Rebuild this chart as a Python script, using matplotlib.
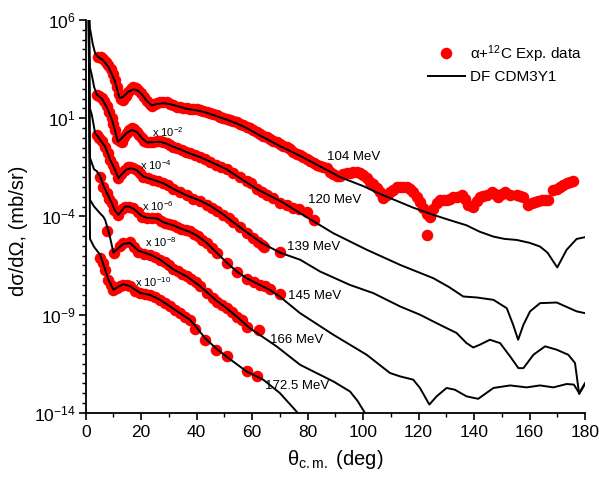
import numpy as np
import matplotlib
matplotlib.use('Agg')
import matplotlib.pyplot as plt
from matplotlib.ticker import FixedLocator, MultipleLocator, NullFormatter, FuncFormatter
from matplotlib.lines import Line2D

plt.rcParams['font.family'] = ['Liberation Sans', 'DejaVu Sans']
plt.rcParams['mathtext.fontset'] = 'custom'
plt.rcParams['mathtext.rm'] = 'Liberation Sans'
plt.rcParams['mathtext.it'] = 'Liberation Sans:italic'
plt.rcParams['mathtext.bf'] = 'Liberation Sans:bold'

energies = ['104 MeV', '120 MeV', '139 MeV', '145 MeV', '166 MeV', '172.5 MeV']
factors = [1.0, 1e-2, 1e-4, 1e-6, 1e-8, 1e-10]
factor_labels = ['', 'x 10$^{-2}$', 'x 10$^{-4}$', 'x 10$^{-6}$', 'x 10$^{-8}$', 'x 10$^{-10}$']

# ---- experimental data (mb/sr, unscaled) ----
th_104 = [4.5, 5.5, 6.4, 7.3, 8.2, 9.0, 9.8, 10.6, 11.3, 12.0, 12.8, 13.6, 14.5, 15.4, 16.3, 17.2,
          18.1, 19.0, 20.0, 21.0, 22.0, 23.0, 23.8, 24.8, 25.8, 26.8, 28.0, 29.2, 30.4, 31.6, 32.8,
          34.0, 35.2, 36.4, 37.6, 38.8, 40.0, 41.2, 42.4, 43.6, 44.8, 46.0, 47.2, 48.4, 49.6, 50.8,
          52.0, 53.2, 54.4, 55.6, 56.8, 58.0, 59.2, 60.4, 61.6, 62.9, 64.0, 65.2, 66.4, 67.7, 68.9,
          70.1, 71.3, 72.5, 73.7, 74.9, 76.1, 77.3, 78.5, 79.7, 81.0, 82.2, 83.4, 84.5, 85.7, 86.9,
          88.1, 89.3, 90.5, 91.7, 92.9, 94.1, 95.3, 96.5, 97.7, 98.9, 100.1, 101.3, 102.5, 103.7,
          104.9, 106.1, 107.3, 108.5, 109.7, 110.9, 112.1, 113.3, 114.5, 115.7, 116.9, 118.1, 119.3,
          120.5, 121.7, 122.9, 123.0, 124.1, 125.3, 126.5, 127.7, 129.0, 130.1, 131.3, 132.5, 133.7,
          135.5, 136.7, 137.9, 139.7, 141.0, 142.1, 143.4, 144.6, 146.4, 147.6, 148.7, 150.0, 151.2,
          153.0, 155.4, 156.6, 157.7, 159.6, 160.8, 162.0, 163.2, 164.4, 165.6, 166.8, 168.6, 169.8,
          171.0, 172.2, 173.4, 174.6, 175.8]
xs_104 = [1.35e4, 1.26e4, 1.07e4, 7.6e3, 5.0e3, 3.16e3, 1.78e3, 8.9e2, 4.0e2, 1.78e2, 1.0e2, 85,
          1.41e2, 2.24e2, 3.16e2, 3.72e2, 3.55e2, 2.82e2, 2.0e2, 1.26e2, 79, 50, 42, 50, 59, 66, 69,
          63, 56, 47, 39, 35.5, 33.9, 32.4, 30.9, 30.2, 28.2, 25.1, 22.9, 20.4, 17.8, 15.8, 14.1,
          12.0, 10.7, 9.55, 8.32, 7.24, 6.31, 5.25, 4.47, 3.72, 3.02, 2.51, 2.09, 1.51, 1.26, 1.10,
          0.891, 0.724, 0.631, 0.479, 0.398, 0.331, 0.263, 0.200, 0.151, 0.126, 0.100, 0.0794,
          0.0631, 0.0501, 0.0417, 0.0380, 0.0316, 0.0282, 0.0178, 0.0141, 0.0112, 0.0112, 0.0141,
          0.0158, 0.0158, 0.0178, 0.0178, 0.0158, 0.0126, 8.9e-3, 5.9e-3, 4.5e-3, 2.8e-3, 1.78e-3,
          8.5e-4, 1.26e-3, 1.78e-3, 2.24e-3, 3.0e-3, 3.3e-3, 3.3e-3, 3.0e-3, 2.4e-3, 1.66e-3, 1.0e-3,
          5.6e-4, 2.8e-4, 1.35e-4, 1.15e-5, 8.9e-5, 2.5e-4, 4.7e-4, 6.9e-4, 7.1e-4, 6.9e-4, 7.9e-4,
          1.0e-3, 1.02e-3, 1.23e-3, 7.9e-4, 3.9e-4, 3.16e-4, 6.3e-4, 1.02e-3, 1.12e-3, 1.23e-3,
          1.82e-3, 1.41e-3, 1.02e-3, 1.41e-3, 1.82e-3, 1.23e-3, 1.23e-3, 1.12e-3, 1.02e-3, 3.9e-4,
          5.0e-4, 5.6e-4, 6.3e-4, 6.9e-4, 6.9e-4, 6.9e-4, 2.24e-3, 2.5e-3, 3.3e-3, 4.0e-3, 4.9e-3,
          5.6e-3, 6.3e-3]

th_120 = [3.96, 4.9, 5.8, 6.7, 7.6, 8.5, 9.4, 10.0, 10.6, 11.4, 12.2, 13.0, 13.9, 14.8, 15.7, 16.6,
          17.5, 18.4, 19.3, 20.2, 21.1, 22.0, 23.2, 24.4, 25.6, 26.8, 28.0, 29.2, 30.4, 31.6, 33.0,
          34.6, 36.0, 37.6, 39.4, 41.2, 43.0, 44.8, 47.0, 48.8, 50.8, 53.2, 55.6, 58.0, 59.5, 61.6,
          63.4, 65.2, 67.6, 70.1, 72.5, 74.8, 77.0, 79.7, 82.4]
xs_120 = [1.51e4, 1.32e4, 1.02e4, 7.1e3, 4.0e3, 2.0e3, 1.0e3, 5.0e2, 2.5e2, 89, 71, 65, 112, 170,
          251, 309, 282, 209, 141, 95, 71, 58, 60, 65, 69, 72, 63, 54, 44, 35, 30, 24, 20, 16.6,
          13.5, 11.0, 8.3, 6.2, 4.2, 3.16, 2.63, 1.58, 1.07, 0.63, 0.50, 0.25, 0.178, 0.117, 0.089,
          0.050, 0.038, 0.028, 0.024, 0.0158, 6.6e-3]

th_139 = [4.0, 4.9, 5.8, 7.0, 7.9, 8.8, 9.7, 10.6, 11.8, 12.8, 14.2, 15.1, 16.0, 17.2, 18.4, 19.6,
          20.8, 22.6, 24.4, 26.2, 28.0, 29.8, 31.6, 34.0, 36.4, 38.8, 41.2, 43.6, 45.5, 47.5, 49.6,
          51.5, 53.2, 55.6, 58.0, 60.4, 62.0, 63.4, 64.2, 70.1]
xs_139 = [1.41e4, 1.0e4, 7.1e3, 3.55e3, 1.78e3, 7.6e2, 4.0e2, 2.34e2, 87, 141, 234, 316, 339, 302,
          234, 158, 107, 85, 72, 60, 49, 38, 25, 17.8, 11.7, 7.9, 6.3, 4.0, 2.8, 1.78, 1.2, 0.79,
          0.50, 0.28, 0.138, 0.079, 0.050, 0.035, 0.029, 0.0162]

th_145 = [5.2, 6.3, 7.6, 8.5, 9.4, 10.2, 11.8, 13.0, 14.2, 15.6, 17.2, 18.7, 20.2, 22.0, 23.8, 25.6,
          27.0, 28.5, 30.0, 31.6, 33.0, 34.5, 36.0, 37.6, 39.0, 40.5, 41.8, 43.6, 45.4, 47.2, 50.8,
          54.4, 58.0, 60.5, 62.8, 64.5, 66.4, 70.1]
xs_145 = [1.07e4, 3.3e3, 1.51e3, 7.9e2, 4.7e2, 2.14e2, 1.2e2, 2.24e2, 3.16e2, 3.16e2, 2.63e2,
          1.58e2, 98, 81, 81, 79, 56, 45, 40, 37, 28, 24, 20, 17, 13.2, 10, 6.3, 4.4, 2.5, 1.35,
          0.42, 0.141, 0.063, 0.045, 0.032, 0.027, 0.020, 0.0107]

th_166 = [7.8, 10.2, 12.3, 13.6, 16.0, 17.5, 19.0, 21.0, 23.2, 25.0, 26.8, 28.5, 30.0, 31.6, 33.2,
          34.8, 36.4, 38.0, 39.6, 41.2, 43.6, 46.0, 47.2, 49.0, 50.8, 52.6, 54.4, 56.2, 58.0, 62.5]
xs_166 = [1.9e3, 1.35e2, 3.16e2, 4.4e2, 4.8e2, 2.8e2, 1.62e2, 1.26e2, 1.1e2, 89, 62, 45, 32, 22,
          15.8, 12, 8.7, 6.3, 4.5, 2.8, 1.23, 0.71, 0.46, 0.32, 0.21, 0.141, 0.079, 0.050, 0.0245,
          0.0166]

th_172 = [5.2, 6.1, 7.0, 8.1, 9.0, 10.0, 11.2, 12.5, 13.6, 14.8, 16.0, 17.8, 19.6, 21.4, 23.2,
          25.0, 26.8, 28.6, 30.4, 32.2, 34.0, 35.8, 37.6, 39.4, 43.0, 46.8, 50.8, 58.0, 61.8]
xs_172 = [7.4e3, 4.0e3, 1.9e3, 5.9e2, 3.16e2, 1.82e2, 2.24e2, 3.0e2, 3.2e2, 3.16e2, 2.7e2, 1.66e2,
          1.23e2, 1.07e2, 1.02e2, 79, 56, 40, 26, 17.8, 11.7, 7.9, 5.4, 1.78, 0.52, 0.162, 0.074,
          0.0141, 7.6e-3]

# ---- DF CDM3Y1 folding model curves (mb/sr, unscaled) ----
thd_104 = [1.0, 1.5, 2.5, 3.4, 4.5, 6.3, 8.2, 9.4, 10.6, 11.4, 12.1, 13.0, 14.3, 15.4, 17.2, 18.6,
           20.2, 22.0, 23.8, 25.6, 28.0, 30.4, 32.8, 36.4, 40.0, 43.6, 47.2, 50.8, 54.4, 58.0, 62.0,
           66.0, 70.0, 77.3, 84.5, 91.7, 100.0, 106.0, 112.0, 118.0, 125.3, 131.0, 137.3, 142.0,
           147.0, 151.0, 155.4, 160.0, 163.8, 166.5, 170.0, 173.4, 177.0, 180.0]
df_104 = [3e7, 4.0e5, 6.3e4, 2.0e4, 1.32e4, 8.9e3, 4.0e3, 1.78e3, 7.1e2, 2.8e2, 1.12e2, 1.12e2,
          1.58e2, 2.24e2, 2.95e2, 2.63e2, 1.66e2, 76, 45, 52, 58, 52, 42, 30, 25, 19, 12.6, 8.5, 5.4,
          3.16, 1.51, 0.76, 0.38, 0.12, 0.035, 0.01, 3.5e-3, 1.41e-3, 6.3e-4, 2.8e-4, 1.2e-4, 6.6e-5,
          3.5e-5, 1.66e-5, 9.3e-6, 7.1e-6, 6.3e-6, 4.5e-6, 2.9e-6, 1.41e-6, 2.5e-7, 2.0e-6, 7.1e-6,
          8.7e-6]

thd_120 = [1.0, 1.5, 2.2, 3.0, 4.0, 5.8, 7.6, 9.4, 10.6, 11.6, 12.4, 14.8, 16.6, 18.4, 20.2, 22.0,
           24.4, 26.8, 29.2, 31.6, 34.6, 37.6, 41.2, 44.8, 50.8, 55.7, 61.6, 66.4, 71.2, 77.3, 89.3,
           101.3, 113.3, 125.3, 131.0, 136.1, 141.0, 147.0, 151.8, 154.1, 155.9, 157.8, 160.2,
           163.8, 169.8, 177.0, 180.0]
df_120 = [3e9, 4.0e5, 1.58e5, 4.0e4, 1.58e4, 1.0e4, 3.55e3, 8.9e2, 2.24e2, 63, 79, 178, 251, 200,
          100, 58, 60, 63, 50, 35, 24, 15.8, 10.5, 6.2, 2.5, 0.87, 0.25, 0.112, 0.050, 0.0145,
          1.38e-3, 2.0e-4, 3.4e-5, 7.1e-6, 2.5e-6, 8.3e-7, 7.4e-7, 5.6e-7, 2.1e-7, 3.0e-8, 5.2e-9,
          3.0e-8, 1.45e-7, 3.8e-7, 4.1e-7, 1.45e-7, 1.17e-7]

thd_139 = [1.0, 1.5, 2.2, 3.4, 4.5, 5.2, 7.0, 8.8, 10.6, 11.8, 13.0, 14.8, 16.5, 18.4, 20.8, 24.4,
           28.0, 31.6, 36.4, 41.2, 44.8, 49.6, 53.2, 58.0, 63.4, 70.1, 77.3, 84.5, 95.3, 103.7,
           113.3, 120.5, 127.7, 133.7, 137.3, 139.7, 142.1, 145.7, 149.4, 153.0, 156.0, 157.8,
           161.4, 165.6, 169.8, 174.0, 176.4, 177.9, 180.0]
df_139 = [3e11, 3.2e5, 1.48e5, 1.7e4, 1.12e4, 7.8e3, 3.55e3, 7.6e2, 2.34e2, 87, 141, 251, 282, 224,
          107, 72, 49, 25, 11.7, 6.3, 3.55, 1.26, 0.50, 0.158, 0.045, 0.0141, 6.2e-3, 1.55e-3,
          3.2e-4, 1.23e-4, 2.6e-5, 9.8e-6, 3.0e-6, 1.15e-6, 3.5e-7, 2.1e-7, 2.9e-7, 5.2e-7, 3.5e-7,
          7.4e-8, 1.86e-8, 1.86e-8, 8.9e-8, 2.4e-7, 1.62e-7, 8.9e-8, 3.4e-8, 8.9e-10, 2.9e-9]

thd_145 = [1.0, 1.5, 3.0, 4.0, 5.2, 6.3, 7.6, 9.4, 10.5, 11.8, 13.0, 14.2, 15.5, 17.2, 20.2, 22.0,
           25.6, 28.0, 31.6, 34.0, 37.6, 40.0, 43.6, 47.2, 50.8, 54.4, 58.0, 62.8, 66.4, 70.1, 77.3,
           89.3, 101.3, 109.7, 113.3, 118.1, 120.5, 123.9, 126.5, 130.1, 133.1, 137.3, 141.5, 147.0,
           153.0, 159.0, 163.8, 168.6, 173.4, 176.0, 177.9, 180.0]
df_145 = [3e13, 1.0e5, 2.5e4, 2.0e4, 1.07e4, 4.0e3, 1.58e3, 4.7e2, 2.0e2, 1.2e2, 2.0e2, 3.16e2,
          3.16e2, 2.5e2, 105, 85, 79, 50, 35, 25, 15.8, 10.7, 4.5, 1.41, 0.45, 0.158, 0.071, 0.032,
          0.0178, 7.9e-3, 1.17e-3, 9.3e-5, 8.9e-6, 1.05e-6, 7.1e-7, 4.8e-7, 1.82e-7, 2.6e-8, 6.8e-8,
          1.82e-7, 1.48e-7, 6.8e-8, 5.1e-8, 1.82e-7, 2.45e-7, 1.95e-7, 2.45e-7, 1.95e-7, 2.9e-7,
          2.7e-7, 1.0e-7, 3.2e-7]

thd_166 = [1.0, 1.55, 3.0, 5.2, 6.3, 7.0, 8.5, 10.0, 11.5, 13.6, 16.0, 19.0, 23.2, 26.8, 31.6, 36.4,
           41.2, 43.6, 47.2, 50.8, 54.4, 59.2, 68.8, 77.3, 84.5, 89.3, 95.3, 98.0, 101.5]
df_166 = [3e15, 6.9e4, 3.2e4, 1.41e4, 9.8e3, 6.6e3, 1.26e3, 1.41e2, 2.24e2, 4.0e2, 4.4e2, 1.78e2,
          1.12e2, 63, 20, 8.7, 2.8, 1.41, 0.50, 0.21, 0.079, 0.020, 2.4e-3, 2.75e-4, 8.5e-5, 3.9e-5,
          1.2e-5, 4.0e-6, 6.3e-7]

thd_172 = [1.0, 1.55, 3.0, 5.2, 7.0, 8.1, 10.0, 11.5, 13.6, 16.0, 19.6, 23.2, 26.8, 30.4, 34.0,
           37.6, 39.4, 43.0, 47.2, 50.8, 58.0, 64.0, 70.0, 74.8, 77.0]
df_172 = [3e17, 7.1e4, 2.8e4, 1.1e4, 2.0e3, 6.3e2, 1.82e2, 2.5e2, 3.55e2, 2.8e2, 1.26e2, 100, 56,
          26, 11.7, 5.4, 2.8, 0.63, 0.178, 0.071, 0.0126, 4.8e-3, 1.0e-3, 1.78e-4, 7.9e-5]

exp_sets = [(th_104, xs_104), (th_120, xs_120), (th_139, xs_139),
            (th_145, xs_145), (th_166, xs_166), (th_172, xs_172)]
df_sets = [(thd_104, df_104), (thd_120, df_120), (thd_139, df_139),
           (thd_145, df_145), (thd_166, df_166), (thd_172, df_172)]

# label anchors (deg, plotted value)
energy_pos = [(87.0, 0.107), (80.1, 6.9e-4), (72.6, 2.8e-6), (72.9, 8.9e-9), (66.4, 5.2e-11), (64.6, 2.3e-13)]
factor_pos = [None, (23.9, 2.0), (19.6, 0.042), (20.3, 3.4e-4), (21.4, 5.0e-6), (17.8, 4.7e-8)]

fig = plt.figure(figsize=(5.99, 4.79), dpi=100)
ax = fig.add_axes([0.1431, 0.1384, 0.8335, 0.8198])

for (th, xs), f in zip(exp_sets, factors):
    ax.plot(th, np.array(xs) * f, 'o', color='#ff0000', ms=8.3, mec='none', zorder=2)
for (th, xs), f in zip(df_sets, factors):
    ax.plot(th, np.array(xs) * f, '-', color='black', lw=1.4, zorder=3)

for lab, (x, y) in zip(energies, energy_pos):
    ax.text(x, y, lab, fontsize=9.5, ha='left', va='center', zorder=4)
for lab, pos in zip(factor_labels, factor_pos):
    if pos is None:
        continue
    ax.text(pos[0], pos[1], lab, fontsize=8, ha='left', va='center', zorder=4)

ax.set_yscale('log')
ax.set_xlim(0, 180)
ax.set_ylim(1e-14, 1e6)
ax.spines['top'].set_visible(False)
ax.spines['right'].set_visible(False)
ax.spines['left'].set_linewidth(1.3)
ax.spines['bottom'].set_linewidth(1.3)

ax.yaxis.set_major_locator(FixedLocator([1e-14, 1e-9, 1e-4, 1e1, 1e6]))
ax.yaxis.set_major_formatter(FuncFormatter(lambda v, p: r'$\mathdefault{10^{%d}}$' % round(np.log10(v))))
ax.yaxis.set_minor_locator(FixedLocator(10 ** (np.arange(-28, 13) / 2.0)))
ax.yaxis.set_minor_formatter(NullFormatter())
ax.xaxis.set_major_locator(MultipleLocator(20))
ax.xaxis.set_minor_locator(MultipleLocator(10))
ax.tick_params(which='major', direction='out', length=5, width=1.2)
ax.tick_params(which='minor', direction='out', length=3, width=1.0)
ax.tick_params(axis='x', labelsize=12.5)
ax.tick_params(axis='y', labelsize=12.5, pad=2)

ax.set_xlabel(r'$\mathrm{\theta}_{\mathrm{c.m.}}$ (deg)', fontsize=14.5, labelpad=6)
ax.set_ylabel('dσ/dΩ, (mb/sr)', fontsize=14.5)
ax.yaxis.set_label_coords(-0.115, 0.463)

handles = [Line2D([], [], marker='o', ls='none', color='#ff0000', mec='none', ms=8.3),
           Line2D([], [], color='black', lw=1.4)]
ax.legend(handles, ['α+$^{12}$C Exp. data', 'DF CDM3Y1'], loc='upper left',
          bbox_to_anchor=(428 / 599, 1 - 43 / 479), bbox_transform=fig.transFigure,
          frameon=False, fontsize=11, handlelength=2.4, handletextpad=0.35,
          borderpad=0, borderaxespad=0, labelspacing=0.35, numpoints=1)

fig.savefig('out.png', dpi=100)
